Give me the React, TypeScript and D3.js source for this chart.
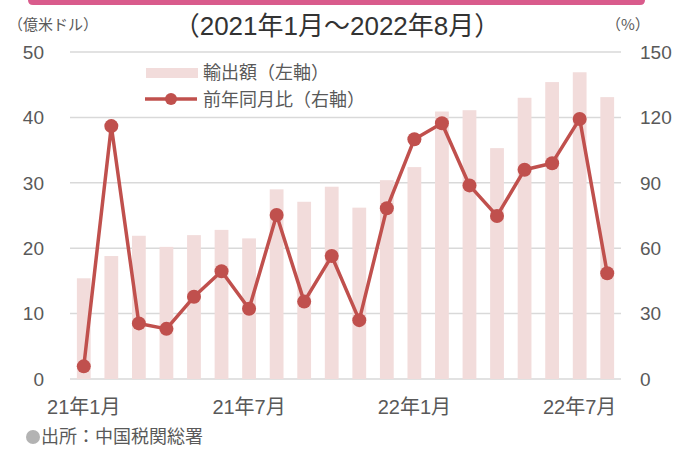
import React, { useEffect, useRef } from 'react';
import * as d3 from 'd3';

// 月ラベル（2021年1月〜2022年8月）
const months = [
  '21年1月', '21年2月', '21年3月', '21年4月', '21年5月', '21年6月', '21年7月', '21年8月',
  '21年9月', '21年10月', '21年11月', '21年12月', '22年1月', '22年2月', '22年3月', '22年4月',
  '22年5月', '22年6月', '22年7月', '22年8月',
];
// 輸出額（億米ドル、左軸）
const exports = [
  15.4, 18.8, 21.9, 20.2, 22.0, 22.8, 21.5, 29.0, 27.1, 29.4,
  26.2, 30.4, 32.4, 40.9, 41.1, 35.3, 43.0, 45.4, 46.9, 43.1,
];
// 前年同月比（%、右軸）
const yoy = [
  5.8, 116, 25.5, 23, 37.7, 49.4, 32.2, 75.2, 35.5, 56.4,
  27, 78.3, 110, 117.3, 88.8, 74.8, 96, 99, 119.3, 48.5,
];
const leftTicks = [0, 10, 20, 30, 40, 50];
const rightTicks = [0, 30, 60, 90, 120, 150];
const xLabels = ['21年1月', '21年7月', '22年1月', '22年7月'];

const W = 678;
const H = 449;
const FONT = '"Liberation Sans", Arial, "Noto Sans CJK JP", sans-serif';
const JP = '"Noto Sans CJK JP", "Liberation Sans", sans-serif';
const barColor = '#f2dcdb';
const lineColor = '#c0504d';
const textColor = '#595959';

const App: React.FC = () => {
  const ref = useRef<SVGSVGElement>(null);

  useEffect(() => {
    if (!ref.current) return;
    const svg = d3.select(ref.current);
    svg.selectAll('*').remove();

    const plot = { left: 70, right: 621, top: 52, bottom: 379 };

    const x = d3.scaleBand()
      .domain(months)
      .range([plot.left, plot.right])
      .paddingInner(0.5)
      .paddingOuter(0.25);
    const yL = d3.scaleLinear().domain([0, 50]).range([plot.bottom, plot.top]);
    const yR = d3.scaleLinear().domain([0, 150]).range([plot.bottom, plot.top]);

    // top decorative band
    svg.append('path')
      .attr('d', 'M28,-6 H645 V0 Q645,5 640,5 H33 Q28,5 28,0 Z')
      .attr('fill', '#d95b8c');

    // gridlines
    svg.append('g')
      .selectAll('line')
      .data(leftTicks)
      .enter()
      .append('line')
      .attr('x1', plot.left)
      .attr('x2', plot.right)
      .attr('y1', d => yL(d))
      .attr('y2', d => yL(d))
      .attr('stroke', '#d9d9d9')
      .attr('stroke-width', 1.5);

    // bars
    svg.append('g')
      .selectAll('rect')
      .data(exports)
      .enter()
      .append('rect')
      .attr('x', (_, i) => x(months[i])!)
      .attr('y', d => yL(d))
      .attr('width', x.bandwidth())
      .attr('height', d => plot.bottom - yL(d))
      .attr('fill', barColor);

    // line
    const cx = (i: number) => x(months[i])! + x.bandwidth() / 2;
    const line = d3.line<number>()
      .x((_, i) => cx(i))
      .y(d => yR(d));
    svg.append('path')
      .datum(yoy)
      .attr('d', line)
      .attr('fill', 'none')
      .attr('stroke', lineColor)
      .attr('stroke-width', 3.5)
      .attr('stroke-linejoin', 'round');

    svg.append('g')
      .selectAll('circle')
      .data(yoy)
      .enter()
      .append('circle')
      .attr('cx', (_, i) => cx(i))
      .attr('cy', d => yR(d))
      .attr('r', 7)
      .attr('fill', lineColor);

    // left axis labels
    svg.append('g')
      .selectAll('text')
      .data(leftTicks)
      .enter()
      .append('text')
      .attr('x', 44)
      .attr('y', d => yL(d))
      .attr('dy', '0.36em')
      .attr('text-anchor', 'end')
      .attr('font-family', FONT)
      .attr('font-size', 19)
      .attr('fill', textColor)
      .text(d => d);

    // right axis labels
    svg.append('g')
      .selectAll('text')
      .data(rightTicks)
      .enter()
      .append('text')
      .attr('x', 640)
      .attr('y', d => yR(d))
      .attr('dy', '0.36em')
      .attr('text-anchor', 'start')
      .attr('font-family', FONT)
      .attr('font-size', 19)
      .attr('fill', textColor)
      .text(d => d);

    // x labels
    svg.append('g')
      .selectAll('text')
      .data(xLabels)
      .enter()
      .append('text')
      .attr('x', d => x(d)! + x.bandwidth() / 2)
      .attr('y', 414)
      .attr('text-anchor', 'middle')
      .attr('font-family', FONT)
      .attr('font-size', 20)
      .attr('fill', textColor)
      .text(d => d);

    // title & units
    svg.append('text')
      .attr('x', 337)
      .attr('y', 35)
      .attr('text-anchor', 'middle')
      .attr('font-family', FONT)
      .attr('font-size', 26)
      .attr('fill', '#333333')
      .text('（2021年1月～2022年8月）');

    svg.append('text')
      .attr('x', 8)
      .attr('y', 30)
      .attr('font-family', JP)
      .attr('font-size', 15)
      .attr('fill', textColor)
      .text('（億米ドル）');

    svg.append('text')
      .attr('x', 606)
      .attr('y', 30)
      .attr('font-family', JP)
      .attr('font-size', 15)
      .attr('fill', textColor)
      .text('（%）');

    // legend
    const lg = svg.append('g');
    lg.append('rect')
      .attr('x', 146).attr('y', 68)
      .attr('width', 52).attr('height', 10)
      .attr('fill', barColor);
    lg.append('text')
      .attr('x', 203).attr('y', 73)
      .attr('dy', '0.36em')
      .attr('font-family', JP)
      .attr('font-size', 18)
      .attr('fill', textColor)
      .text('輸出額（左軸）');
    lg.append('line')
      .attr('x1', 145).attr('x2', 197)
      .attr('y1', 99).attr('y2', 99)
      .attr('stroke', lineColor)
      .attr('stroke-width', 3.5);
    lg.append('circle')
      .attr('cx', 171).attr('cy', 99).attr('r', 6)
      .attr('fill', lineColor);
    lg.append('text')
      .attr('x', 203).attr('y', 100)
      .attr('dy', '0.36em')
      .attr('font-family', JP)
      .attr('font-size', 18)
      .attr('fill', textColor)
      .text('前年同月比（右軸）');

    // source
    svg.append('circle')
      .attr('cx', 33).attr('cy', 437).attr('r', 7)
      .attr('fill', '#b3b3b3');
    svg.append('text')
      .attr('x', 41).attr('y', 437)
      .attr('dy', '0.34em')
      .attr('font-family', JP)
      .attr('font-size', 18)
      .attr('fill', textColor)
      .text('出所：中国税関総署');
  }, []);

  return (
    <svg
      ref={ref}
      width={W}
      height={H}
      style={{ display: 'block', position: 'absolute', left: 0, top: 0, background: '#fff' }}
    />
  );
};

export default App;
